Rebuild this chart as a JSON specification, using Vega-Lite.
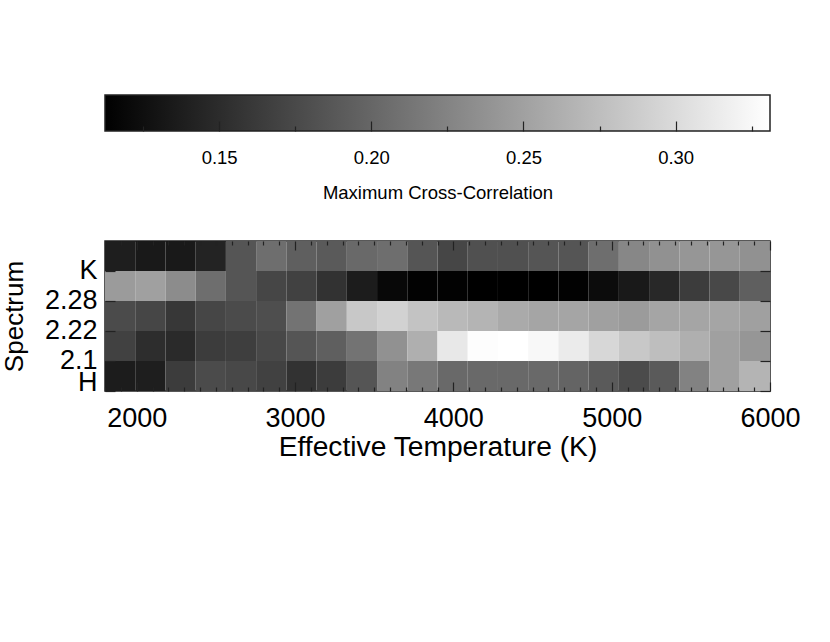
{
  "$schema": "https://vega.github.io/schema/vega-lite/v6.json",
  "background": "white",
  "padding": {"left": 0, "top": 94, "right": 10, "bottom": 10},
  "bounds": "flush",
  "spacing": 110,
  "config": {
    "view": {"stroke": null},
    "font": "Liberation Sans",
    "axis": {"labelFont": "Liberation Sans", "titleFont": "Liberation Sans", "labelColor": "black", "titleColor": "black", "titleFontWeight": "normal", "tickColor": "#222", "domain": false, "grid": false}
  },
  "datasets": {
    "cells": [
      {"spec": "K", "t0": 1800, "t1": 1990.9, "r": 0.1382},
      {"spec": "K", "t0": 1990.9, "t1": 2181.8, "r": 0.1339},
      {"spec": "K", "t0": 2181.8, "t1": 2372.7, "r": 0.1339},
      {"spec": "K", "t0": 2372.7, "t1": 2563.6, "r": 0.1425},
      {"spec": "K", "t0": 2563.6, "t1": 2754.5, "r": 0.1853},
      {"spec": "K", "t0": 2754.5, "t1": 2945.5, "r": 0.2068},
      {"spec": "K", "t0": 2945.5, "t1": 3136.4, "r": 0.1939},
      {"spec": "K", "t0": 3136.4, "t1": 3327.3, "r": 0.1896},
      {"spec": "K", "t0": 3327.3, "t1": 3518.2, "r": 0.2025},
      {"spec": "K", "t0": 3518.2, "t1": 3709.1, "r": 0.2068},
      {"spec": "K", "t0": 3709.1, "t1": 3900, "r": 0.1853},
      {"spec": "K", "t0": 3900, "t1": 4090.9, "r": 0.1725},
      {"spec": "K", "t0": 4090.9, "t1": 4281.8, "r": 0.1811},
      {"spec": "K", "t0": 4281.8, "t1": 4472.7, "r": 0.1811},
      {"spec": "K", "t0": 4472.7, "t1": 4663.6, "r": 0.1853},
      {"spec": "K", "t0": 4663.6, "t1": 4854.5, "r": 0.1853},
      {"spec": "K", "t0": 4854.5, "t1": 5045.5, "r": 0.2068},
      {"spec": "K", "t0": 5045.5, "t1": 5236.4, "r": 0.2282},
      {"spec": "K", "t0": 5236.4, "t1": 5427.3, "r": 0.2368},
      {"spec": "K", "t0": 5427.3, "t1": 5618.2, "r": 0.2410},
      {"spec": "K", "t0": 5618.2, "t1": 5809.1, "r": 0.2410},
      {"spec": "K", "t0": 5809.1, "t1": 6000, "r": 0.2368},
      {"spec": "2.28", "t0": 1800, "t1": 1990.9, "r": 0.2453},
      {"spec": "2.28", "t0": 1990.9, "t1": 2181.8, "r": 0.2496},
      {"spec": "2.28", "t0": 2181.8, "t1": 2372.7, "r": 0.2325},
      {"spec": "2.28", "t0": 2372.7, "t1": 2563.6, "r": 0.2068},
      {"spec": "2.28", "t0": 2563.6, "t1": 2754.5, "r": 0.1853},
      {"spec": "2.28", "t0": 2754.5, "t1": 2945.5, "r": 0.1725},
      {"spec": "2.28", "t0": 2945.5, "t1": 3136.4, "r": 0.1682},
      {"spec": "2.28", "t0": 3136.4, "t1": 3327.3, "r": 0.1553},
      {"spec": "2.28", "t0": 3327.3, "t1": 3518.2, "r": 0.1365},
      {"spec": "2.28", "t0": 3518.2, "t1": 3709.1, "r": 0.1194},
      {"spec": "2.28", "t0": 3709.1, "t1": 3900, "r": 0.1142},
      {"spec": "2.28", "t0": 3900, "t1": 4090.9, "r": 0.1142},
      {"spec": "2.28", "t0": 4090.9, "t1": 4281.8, "r": 0.1125},
      {"spec": "2.28", "t0": 4281.8, "t1": 4472.7, "r": 0.1125},
      {"spec": "2.28", "t0": 4472.7, "t1": 4663.6, "r": 0.1125},
      {"spec": "2.28", "t0": 4663.6, "t1": 4854.5, "r": 0.1142},
      {"spec": "2.28", "t0": 4854.5, "t1": 5045.5, "r": 0.1228},
      {"spec": "2.28", "t0": 5045.5, "t1": 5236.4, "r": 0.1339},
      {"spec": "2.28", "t0": 5236.4, "t1": 5427.3, "r": 0.1468},
      {"spec": "2.28", "t0": 5427.3, "t1": 5618.2, "r": 0.1639},
      {"spec": "2.28", "t0": 5618.2, "t1": 5809.1, "r": 0.1742},
      {"spec": "2.28", "t0": 5809.1, "t1": 6000, "r": 0.1939},
      {"spec": "2.22", "t0": 1800, "t1": 1990.9, "r": 0.1768},
      {"spec": "2.22", "t0": 1990.9, "t1": 2181.8, "r": 0.1725},
      {"spec": "2.22", "t0": 2181.8, "t1": 2372.7, "r": 0.1596},
      {"spec": "2.22", "t0": 2372.7, "t1": 2563.6, "r": 0.1725},
      {"spec": "2.22", "t0": 2563.6, "t1": 2754.5, "r": 0.1768},
      {"spec": "2.22", "t0": 2754.5, "t1": 2945.5, "r": 0.1793},
      {"spec": "2.22", "t0": 2945.5, "t1": 3136.4, "r": 0.2110},
      {"spec": "2.22", "t0": 3136.4, "t1": 3327.3, "r": 0.2496},
      {"spec": "2.22", "t0": 3327.3, "t1": 3518.2, "r": 0.2839},
      {"spec": "2.22", "t0": 3518.2, "t1": 3709.1, "r": 0.2925},
      {"spec": "2.22", "t0": 3709.1, "t1": 3900, "r": 0.2796},
      {"spec": "2.22", "t0": 3900, "t1": 4090.9, "r": 0.2710},
      {"spec": "2.22", "t0": 4090.9, "t1": 4281.8, "r": 0.2667},
      {"spec": "2.22", "t0": 4281.8, "t1": 4472.7, "r": 0.2582},
      {"spec": "2.22", "t0": 4472.7, "t1": 4663.6, "r": 0.2539},
      {"spec": "2.22", "t0": 4663.6, "t1": 4854.5, "r": 0.2539},
      {"spec": "2.22", "t0": 4854.5, "t1": 5045.5, "r": 0.2496},
      {"spec": "2.22", "t0": 5045.5, "t1": 5236.4, "r": 0.2453},
      {"spec": "2.22", "t0": 5236.4, "t1": 5427.3, "r": 0.2539},
      {"spec": "2.22", "t0": 5427.3, "t1": 5618.2, "r": 0.2539},
      {"spec": "2.22", "t0": 5618.2, "t1": 5809.1, "r": 0.2539},
      {"spec": "2.22", "t0": 5809.1, "t1": 6000, "r": 0.2496},
      {"spec": "2.1", "t0": 1800, "t1": 1990.9, "r": 0.1682},
      {"spec": "2.1", "t0": 1990.9, "t1": 2181.8, "r": 0.1511},
      {"spec": "2.1", "t0": 2181.8, "t1": 2372.7, "r": 0.1485},
      {"spec": "2.1", "t0": 2372.7, "t1": 2563.6, "r": 0.1639},
      {"spec": "2.1", "t0": 2563.6, "t1": 2754.5, "r": 0.1656},
      {"spec": "2.1", "t0": 2754.5, "t1": 2945.5, "r": 0.1742},
      {"spec": "2.1", "t0": 2945.5, "t1": 3136.4, "r": 0.1853},
      {"spec": "2.1", "t0": 3136.4, "t1": 3327.3, "r": 0.1939},
      {"spec": "2.1", "t0": 3327.3, "t1": 3518.2, "r": 0.2110},
      {"spec": "2.1", "t0": 3518.2, "t1": 3709.1, "r": 0.2368},
      {"spec": "2.1", "t0": 3709.1, "t1": 3900, "r": 0.2625},
      {"spec": "2.1", "t0": 3900, "t1": 4090.9, "r": 0.3113},
      {"spec": "2.1", "t0": 4090.9, "t1": 4281.8, "r": 0.3293},
      {"spec": "2.1", "t0": 4281.8, "t1": 4472.7, "r": 0.3310},
      {"spec": "2.1", "t0": 4472.7, "t1": 4663.6, "r": 0.3250},
      {"spec": "2.1", "t0": 4663.6, "t1": 4854.5, "r": 0.3139},
      {"spec": "2.1", "t0": 4854.5, "t1": 5045.5, "r": 0.2967},
      {"spec": "2.1", "t0": 5045.5, "t1": 5236.4, "r": 0.2839},
      {"spec": "2.1", "t0": 5236.4, "t1": 5427.3, "r": 0.2753},
      {"spec": "2.1", "t0": 5427.3, "t1": 5618.2, "r": 0.2625},
      {"spec": "2.1", "t0": 5618.2, "t1": 5809.1, "r": 0.2496},
      {"spec": "2.1", "t0": 5809.1, "t1": 6000, "r": 0.2410},
      {"spec": "H", "t0": 1800, "t1": 1990.9, "r": 0.1365},
      {"spec": "H", "t0": 1990.9, "t1": 2181.8, "r": 0.1382},
      {"spec": "H", "t0": 2181.8, "t1": 2372.7, "r": 0.1639},
      {"spec": "H", "t0": 2372.7, "t1": 2563.6, "r": 0.1768},
      {"spec": "H", "t0": 2563.6, "t1": 2754.5, "r": 0.1742},
      {"spec": "H", "t0": 2754.5, "t1": 2945.5, "r": 0.1682},
      {"spec": "H", "t0": 2945.5, "t1": 3136.4, "r": 0.1553},
      {"spec": "H", "t0": 3136.4, "t1": 3327.3, "r": 0.1639},
      {"spec": "H", "t0": 3327.3, "t1": 3518.2, "r": 0.1853},
      {"spec": "H", "t0": 3518.2, "t1": 3709.1, "r": 0.2239},
      {"spec": "H", "t0": 3709.1, "t1": 3900, "r": 0.2153},
      {"spec": "H", "t0": 3900, "t1": 4090.9, "r": 0.2025},
      {"spec": "H", "t0": 4090.9, "t1": 4281.8, "r": 0.2025},
      {"spec": "H", "t0": 4281.8, "t1": 4472.7, "r": 0.2025},
      {"spec": "H", "t0": 4472.7, "t1": 4663.6, "r": 0.2025},
      {"spec": "H", "t0": 4663.6, "t1": 4854.5, "r": 0.1982},
      {"spec": "H", "t0": 4854.5, "t1": 5045.5, "r": 0.1896},
      {"spec": "H", "t0": 5045.5, "t1": 5236.4, "r": 0.1768},
      {"spec": "H", "t0": 5236.4, "t1": 5427.3, "r": 0.1896},
      {"spec": "H", "t0": 5427.3, "t1": 5618.2, "r": 0.2239},
      {"spec": "H", "t0": 5618.2, "t1": 5809.1, "r": 0.2496},
      {"spec": "H", "t0": 5809.1, "t1": 6000, "r": 0.2667}
    ]
  },
  "vconcat": [
    {
      "width": 665,
      "height": 36,
      "data": {"values": [{"lo": 0.1125, "hi": 0.331}]},
      "mark": {
        "type": "rect",
        "fill": {"gradient": "linear", "x1": 0, "y1": 0, "x2": 1, "y2": 0, "stops": [{"offset": 0, "color": "#000000"}, {"offset": 1, "color": "#ffffff"}]},
        "stroke": "#222",
        "strokeWidth": 1.5
      },
      "encoding": {
        "x": {
          "field": "lo",
          "type": "quantitative",
          "scale": {"domain": [0.1125, 0.331], "nice": false, "zero": false},
          "axis": {
            "orient": "bottom",
            "values": [0.125, 0.15, 0.175, 0.2, 0.225, 0.25, 0.275, 0.3, 0.325],
            "labelExpr": "abs(datum.value*20 - round(datum.value*20)) < 0.001 ? format(datum.value, '.2f') : ''",
            "tickSize": {"condition": {"test": "abs(datum.value*20 - round(datum.value*20)) < 0.001", "value": -10}, "value": -5},
            "tickWidth": 1.2,
            "labelPadding": 27,
            "labelFontSize": 18.5,
            "labelOverlap": false,
            "labelFlush": false,
            "title": "Maximum Cross-Correlation",
            "titleFontSize": 18.5,
            "titlePadding": 12,
            "zindex": 1
          }
        },
        "x2": {"field": "hi"}
      }
    },
    {
      "width": 665,
      "height": 150,
      "view": {"stroke": "#222", "strokeWidth": 1.5},
      "data": {"name": "cells"},
      "layer": [
        {
          "mark": {"type": "rect"},
          "encoding": {
            "x": {
              "field": "t0",
              "type": "quantitative",
              "scale": {"domain": [1800, 6000], "nice": false, "zero": false},
              "axis": {
                "orient": "bottom",
                "values": [1800, 1900, 2000, 2100, 2200, 2300, 2400, 2500, 2600, 2700, 2800, 2900, 3000, 3100, 3200, 3300, 3400, 3500, 3600, 3700, 3800, 3900, 4000, 4100, 4200, 4300, 4400, 4500, 4600, 4700, 4800, 4900, 5000, 5100, 5200, 5300, 5400, 5500, 5600, 5700, 5800, 5900, 6000],
                "labelExpr": "datum.value % 1000 === 0 ? format(datum.value, 'd') : ''",
                "tickSize": {"condition": {"test": "datum.value % 1000 === 0", "value": -9}, "value": -4},
                "tickWidth": 1.2,
                "labelPadding": 23,
                "labelFontSize": 27,
                "labelOverlap": false,
                "labelFlush": false,
                "title": "Effective Temperature (K)",
                "titleFontSize": 28.2,
                "titlePadding": -3,
                "zindex": 1
              }
            },
            "x2": {"field": "t1"},
            "y": {
              "field": "spec",
              "type": "ordinal",
              "sort": ["K", "2.28", "2.22", "2.1", "H"],
              "scale": {"paddingInner": 0, "paddingOuter": 0},
              "axis": {
                "orient": "left",
                "bandPosition": 1,
                "tickSize": -10,
                "tickWidth": 1.2,
                "labelPadding": 18,
                "labelFontSize": 27,
                "labelAngle": 0,
                "labelOffset": {"condition": {"test": "datum.value === 'H'", "value": 7}, "value": 15},
                "title": "Spectrum",
                "titleFontSize": 26,
                "titlePadding": 17,
                "zindex": 1
              }
            },
            "color": {
              "field": "r",
              "type": "quantitative",
              "scale": {"domain": [0.1125, 0.331], "range": ["#000000", "#ffffff"], "interpolate": "rgb"},
              "legend": null
            }
          }
        },
        {
          "mark": {"type": "rect", "fillOpacity": 0, "strokeOpacity": 0},
          "encoding": {
            "x": {
              "field": "t0",
              "type": "quantitative",
              "axis": {
                "orient": "top",
                "values": [1800, 1900, 2000, 2100, 2200, 2300, 2400, 2500, 2600, 2700, 2800, 2900, 3000, 3100, 3200, 3300, 3400, 3500, 3600, 3700, 3800, 3900, 4000, 4100, 4200, 4300, 4400, 4500, 4600, 4700, 4800, 4900, 5000, 5100, 5200, 5300, 5400, 5500, 5600, 5700, 5800, 5900, 6000],
                "labels": false,
                "tickSize": {"condition": {"test": "datum.value % 1000 === 0", "value": -9}, "value": -4},
                "tickWidth": 1.2,
                "title": null,
                "zindex": 1
              }
            },
            "x2": {"field": "t1"},
            "y": {
              "field": "spec",
              "type": "ordinal",
              "sort": ["K", "2.28", "2.22", "2.1", "H"],
              "axis": {
                "orient": "right",
                "bandPosition": 1,
                "labels": false,
                "tickSize": -10,
                "tickWidth": 1.2,
                "title": null,
                "zindex": 1
              }
            }
          }
        }
      ],
      "resolve": {"axis": {"x": "independent", "y": "independent"}}
    }
  ]
}
